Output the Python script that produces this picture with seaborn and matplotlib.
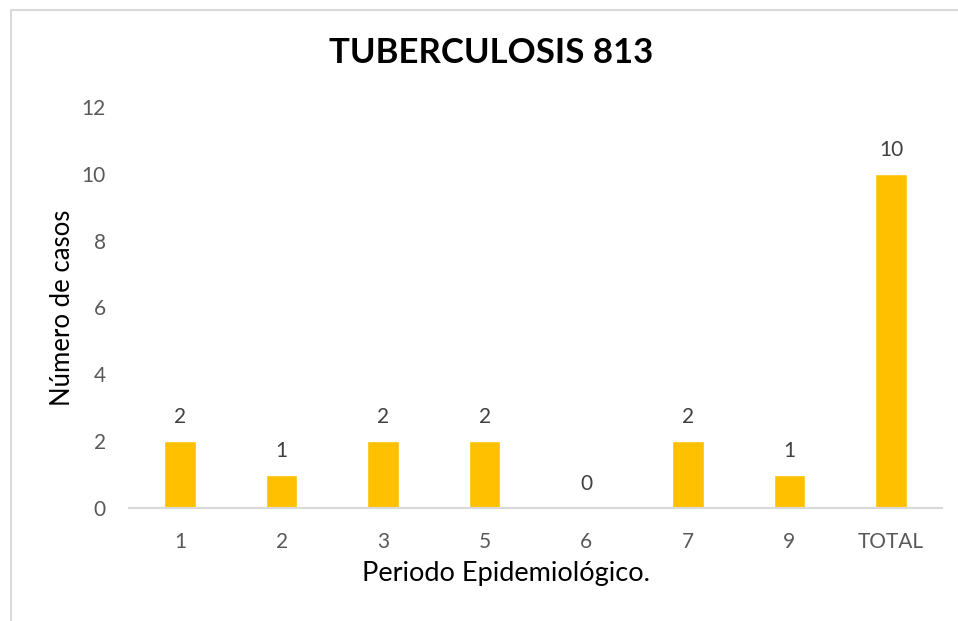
import matplotlib
matplotlib.use("Agg")
import matplotlib.pyplot as plt
import seaborn as sns
import pandas as pd
from matplotlib.patches import Rectangle

periodos = ["1", "2", "3", "5", "6", "7", "9", "TOTAL"]
casos = [2, 1, 2, 2, 0, 2, 1, 10]

df = pd.DataFrame({"periodo": periodos, "casos": casos})

sns.set_style("white")
plt.rcParams["font.family"] = ["Lato", "DejaVu Sans"]

fig = plt.figure(figsize=(9.58, 6.21), dpi=100)
ax = fig.add_axes([0.135, 0.182, 0.848, 0.646])

sns.barplot(data=df, x="periodo", y="casos", color="#FFC000", width=0.31,
            saturation=1, ax=ax)

for i, v in enumerate(casos):
    ax.text(i, v + 0.42, str(v), ha="center", va="bottom", fontsize=15, color="#404040")

ax.set_ylim(0, 12)
ax.set_yticks(range(0, 13, 2))
ax.set_xlim(-0.5, len(periodos) - 0.5)
ax.tick_params(axis="both", length=0, labelsize=15, colors="#595959")
ax.tick_params(axis="x", pad=17)
ax.tick_params(axis="y", pad=17)
for s in ["top", "right", "left"]:
    ax.spines[s].set_visible(False)
ax.spines["bottom"].set_color("#D9D9D9")
ax.spines["bottom"].set_linewidth(1.5)

ax.set_xlabel("Periodo Epidemiológico.", fontsize=19.5, color="black", labelpad=7)
ax.xaxis.label.set_x(0.464)
ax.set_ylabel("Número de casos", fontsize=18.5, color="black", labelpad=5)

fig.text(491 / 958, 1 - 53 / 621, "TUBERCULOSIS 813", ha="center", va="center",
         fontsize=25, fontweight="bold", color="black")

# light frame around the chart area
fig.patches.append(Rectangle((11 / 958, -0.1), 1.2, 1 - 10 / 621 + 0.1,
                             transform=fig.transFigure, fill=False,
                             edgecolor="#D9D9D9", linewidth=1.5))

fig.savefig("out.png", dpi=100)
